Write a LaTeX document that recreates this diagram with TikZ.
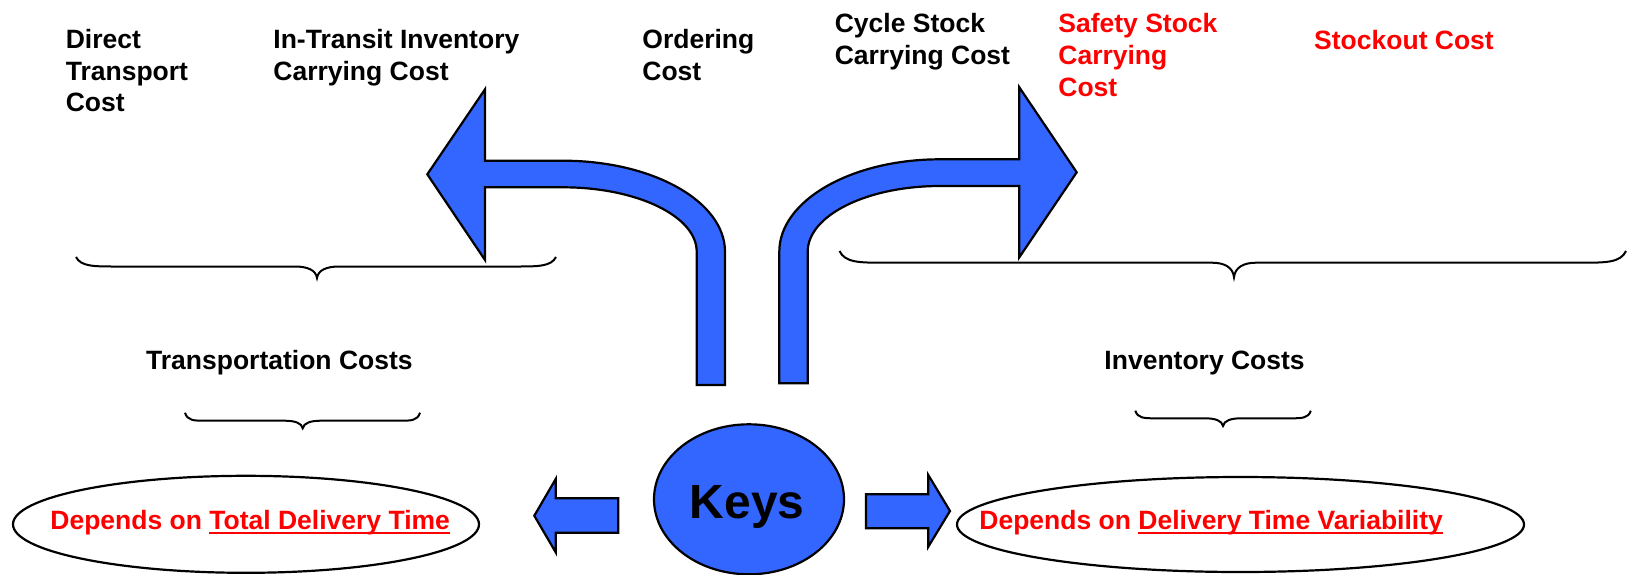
\documentclass[tikz,border=0pt]{standalone}
\usepackage{fontspec}
\setmainfont{Liberation Sans}
\usetikzlibrary{shapes.geometric}
\definecolor{keyblue}{HTML}{3366FF}
\definecolor{costred}{HTML}{FF0000}
\newcommand\myul[1]{\setbox0\hbox{#1}\rlap{\rule[-2.3pt]{\wd0}{1.2pt}}\box0}
% x0, x1, xtip, yend, ymid, ytip, end-curve width, tip-curve width
\newcommand\mybrace[8]{%
  \draw[bracestyle] (#1,#4) .. controls ({#1+0.12*#7},#5) and ({#1+0.45*#7},#5) .. ({#1+#7},#5)
    -- ({#3-#8},#5) .. controls ({#3-0.45*#8},#5) and ({#3-0.05*#8},{#5+0.3*(#6-#5)}) .. (#3,#6)
    .. controls ({#3+0.05*#8},{#5+0.3*(#6-#5)}) and ({#3+0.45*#8},#5) .. ({#3+#8},#5)
    -- ({#2-#7},#5) .. controls ({#2-0.45*#7},#5) and ({#2-0.12*#7},#5) .. (#2,#4);}
\begin{document}
\begin{tikzpicture}[x=0.5pt,y=-0.5pt,
  lbl/.style={font=\fontsize{13.25}{15.85}\selectfont\bfseries, inner sep=0pt, anchor=base west},
  redlbl/.style={lbl, text=costred},
  bigarrow/.style={draw=black, line width=1.1pt, fill=keyblue, line join=miter},
  oval/.style={ellipse, draw=black, line width=1.1pt, inner sep=0pt},
  bracestyle/.style={draw=black, line width=1pt}]
\useasboundingbox (0,0) rectangle (1628,574);

% top labels
\node[lbl] (direct) at (65.4,48.5) {\begin{tabular}[t]{@{}l@{}}Direct\\Transport\\Cost\end{tabular}};
\node[lbl] (intransit) at (273,48.5) {\begin{tabular}[t]{@{}l@{}}In-Transit Inventory\\Carrying Cost\end{tabular}};
\node[lbl] (ordering) at (642,48.5) {\begin{tabular}[t]{@{}l@{}}Ordering\\Cost\end{tabular}};
\node[lbl] (cycle) at (834.4,32.7) {\begin{tabular}[t]{@{}l@{}}Cycle Stock\\Carrying Cost\end{tabular}};
\node[redlbl] (safety) at (1058,32.7) {\begin{tabular}[t]{@{}l@{}}Safety Stock\\Carrying\\Cost\end{tabular}};
\node[redlbl] (stockout) at (1313.8,49) {Stockout Cost};

% curved arrows
\draw[bigarrow] (427.3,174.3) -- (485,89.3) -- (485,160.7) -- (563,160.7)
  .. controls (652.5,160.7) and (725,201.4) .. (725,251.7) -- (725,385) -- (696.7,385) -- (696.7,251.7)
  .. controls (696.7,216.1) and (636.8,187.3) .. (563,187.3) -- (485,187.3) -- (485,260) -- cycle;
\draw[bigarrow] (779.3,383.3) -- (779.3,251.7) .. controls (779.3,200.7) and (851.2,159.3) .. (940,159.3)
  -- (1019.3,159.3) -- (1019.3,87.3) -- (1076.7,172.3) -- (1019.3,257.3) -- (1019.3,186) -- (940,186)
  .. controls (867,186) and (807.7,215.4) .. (807.7,251.7) -- (807.7,383.3) -- cycle;

% braces
\mybrace{76}{556}{317}{257}{266.5}{278}{40}{22}
\mybrace{839.5}{1626}{1234}{251}{262.7}{277.3}{45}{22}
\mybrace{185}{420}{302.7}{412.7}{420.7}{428.3}{20}{18}
\mybrace{1135.3}{1310.8}{1223}{410.7}{418.3}{426}{20}{18}

\node[lbl, anchor=base] (transp) at (279.4,369) {Transportation Costs};
\node[lbl, anchor=base] (inv) at (1204.6,369) {Inventory Costs};

% bottom row
\node[oval, fill=keyblue, minimum width=95pt, minimum height=75pt] (keys) at (749,499.3) {};
\node[font=\fontsize{24}{28}\selectfont\bfseries, anchor=base, inner sep=0pt] (keystext) at (747.2,518.3) {Keys};
\draw[bigarrow] (534.3,515.7) -- (555.7,479) -- (555.7,498.3) -- (618.3,498.3) -- (618.3,532.7) -- (555.7,532.7) -- (555.7,552.3) -- cycle;
\draw[bigarrow] (950,511) -- (928.3,475) -- (928.3,494.3) -- (866,494.3) -- (866,528.3) -- (928.3,528.3) -- (928.3,546.7) -- cycle;

\node[oval, fill=white, minimum width=233pt, minimum height=48.5pt] (tdtoval) at (246,524.3) {};
\node[oval, fill=white, minimum width=283.5pt, minimum height=47.5pt] (dtvoval) at (1240.5,524.5) {};
\node[redlbl] (tdt) at (50,529.3) {Depends on \myul{Total Delivery Time}};
\node[redlbl] (dtv) at (979,529.3) {Depends on \myul{Delivery Time Variability}};
\end{tikzpicture}
\end{document}
